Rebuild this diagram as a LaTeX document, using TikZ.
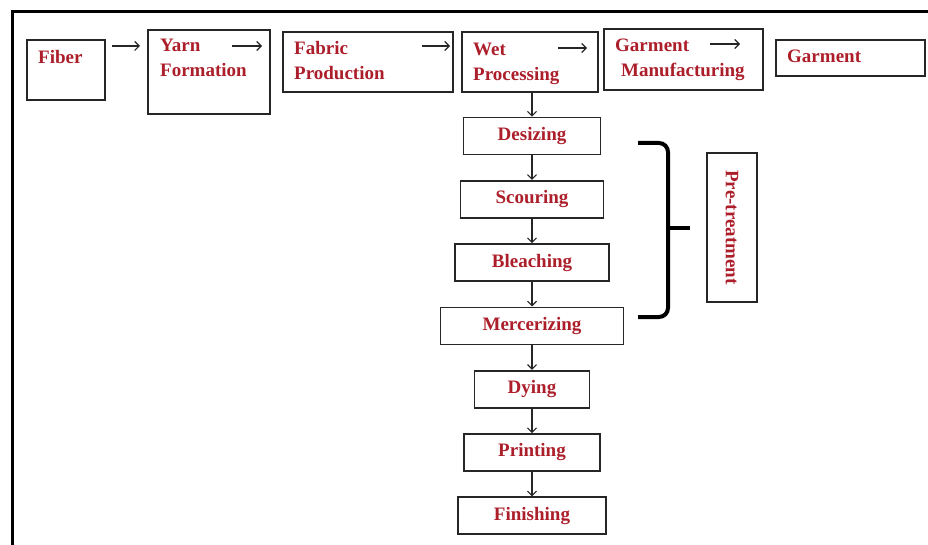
\documentclass[tikz,border=0pt]{standalone}
\usepackage{fontspec}
\setmainfont{Liberation Serif}
\usetikzlibrary{positioning,arrows.meta}
\definecolor{labelred}{RGB}{172,30,42}
\begin{document}
\begin{tikzpicture}[
        x=1pt, y=-1pt,
        box/.style={draw=black!85, line width=1.8pt, rectangle, inner sep=0pt},
        lbl/.style={inner sep=0pt, align=left, text=labelred, font=\fontsize{19}{25}\selectfont\bfseries},
        procbox/.style={box, lbl, minimum height=37pt},
        arr/.style={-{Straight Barb[length=4.5pt,width=9pt]}, line width=1.1pt, draw=black!85},
        brace/.style={line width=4pt, draw=black},
        node distance=24.5pt,
    ]
    \useasboundingbox (0,0) rectangle (928,545);
    % outer frame
    \draw[line width=3pt] (12,545) -- (12,12) -- (928,12);

    % top row
    \node[box, anchor=north west, minimum width=78pt, minimum height=60pt](fiber) at (26,39){};
    \node[box, anchor=north west, minimum width=122pt, minimum height=84pt](yarn) at (147,29){};
    \node[box, anchor=north west, minimum width=170pt, minimum height=60pt](fabric) at (282,31){};
    \node[box, anchor=north west, minimum width=136pt, minimum height=60pt](wet) at (461,31){};
    \node[box, anchor=north west, minimum width=159pt, minimum height=61pt](garmman) at (603,28){};
    \node[box, anchor=north west, minimum width=149pt, minimum height=36pt](garment) at (775,39){};

    \node[lbl, below right=11pt and 12pt of fiber.north west](fiberl){Fiber};
    \node[lbl, below right=10pt and 13pt of yarn.north west](yarnl){Yarn\\Formation};
    \node[lbl, below right=10pt and 12pt of fabric.north west](fabricl){Fabric\\Production};
    \node[lbl, below right=12pt and 12pt of wet.north west](wetl){Wet\\Processing};
    \node[lbl, below right=11pt and 12pt of garmman.north west](garmmanl){Garment\\\hspace*{6pt}Manufacturing};
    \node[lbl, below right=11pt and 12pt of garment.north west](garmentl){Garment};

    % arrows of the top row
    \foreach \n/\xa/\xb/\yy in {fibarr/112/140/46, yarnarr/232/262/46, fabarr/422/450/46,
            wetarr/558/587/48, garmarr/710/740/44}{
        \coordinate (\n s) at (\xa,\yy);
        \coordinate (\n e) at (\xb,\yy);
        \draw[arr] (\n s) -- (\n e);
    }

    % wet processing steps
    \node[procbox, minimum width=137pt](desizing) at (532,136){Desizing};
    \node[procbox, minimum width=143pt, below=of desizing](scouring){Scouring};
    \node[procbox, minimum width=154pt, below=of scouring](bleaching){Bleaching};
    \node[procbox, minimum width=183pt, below=of bleaching](mercerizing){Mercerizing};
    \node[procbox, minimum width=115pt, below=of mercerizing](dying){Dying};
    \node[procbox, minimum width=136pt, below=of dying](printing){Printing};
    \node[procbox, minimum width=148pt, below=of printing](finishing){Finishing};

    \draw[arr] (desizing |- wet.south) -- (desizing);
    \draw[arr] (desizing) -- (scouring);
    \draw[arr] (scouring) -- (bleaching);
    \draw[arr] (bleaching) -- (mercerizing);
    \draw[arr] (mercerizing) -- (dying);
    \draw[arr] (dying) -- (printing);
    \draw[arr] (printing) -- (finishing);

    % pre-treatment brace
    \draw[brace, rounded corners=9pt] (638,143) -- (668,143) -- (668,317) -- (638,317);
    \draw[brace] (668,228) -- (690,228);
    \node[box, lbl, rotate=-90, minimum width=149pt, minimum height=50pt](pretreat) at (732,227.5){Pre-treatment};
\end{tikzpicture}
\end{document}
